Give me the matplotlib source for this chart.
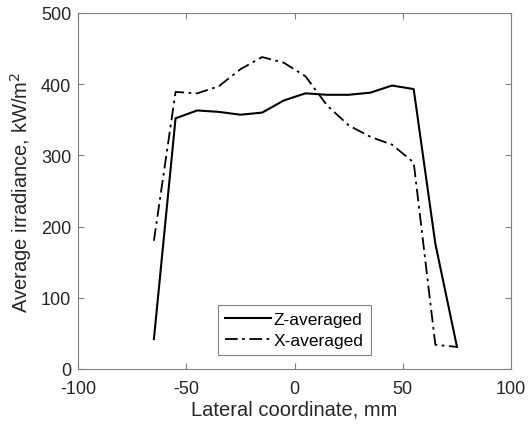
import matplotlib.pyplot as plt

plt.rcParams['font.family'] = ['Liberation Sans', 'DejaVu Sans']
plt.rcParams['axes.unicode_minus'] = False

# lateral coordinate, mm
x_mm = [-65, -55, -45, -35, -25, -15, -5, 5, 15, 25, 35, 45, 55, 65, 75]
# average irradiance, kW/m^2
z_avg = [42, 352, 363, 361, 357, 360, 377, 387, 385, 385, 388, 398, 393, 176, 31]
x_avg = [180, 389, 387, 397, 421, 438, 430, 411, 370, 342, 326, 315, 290, 34, 31]

fig = plt.figure(figsize=(5.28, 4.27), dpi=100)
ax = fig.add_axes([0.148, 0.1335, 0.82, 0.834])

ax.plot(x_mm, z_avg, color='black', lw=1.5, linestyle='-', label='Z-averaged')
ax.plot(x_mm, x_avg, color='black', lw=1.3, linestyle=(0, (7, 2.5, 1.5, 2.5)),
        label='X-averaged')

ax.set_xlim(-100, 100)
ax.set_ylim(0, 500)
ax.set_xticks([-100, -50, 0, 50, 100])
ax.set_yticks([0, 100, 200, 300, 400, 500])
ax.set_xlabel('Lateral coordinate, mm', fontsize=14.5, color='#262626', labelpad=2)
ax.set_ylabel('Average irradiance, kW/m$^2$', fontsize=14.5, color='#262626', labelpad=5)

for s in ax.spines.values():
    s.set_color('#808080')
    s.set_linewidth(0.8)
ax.tick_params(direction='in', top=True, right=True, length=4, width=0.8,
               color='#808080', labelcolor='#262626', labelsize=13)
ax.tick_params(axis='x', pad=8)
ax.tick_params(axis='y', pad=5)

leg = ax.legend(loc='lower center', bbox_to_anchor=(0.5, 0.04), fontsize=12.5,
                fancybox=False, framealpha=1, edgecolor='#808080',
                handlelength=2.6, borderpad=0.4, labelspacing=0.3,
                handletextpad=0.2, borderaxespad=0)
leg.get_frame().set_linewidth(0.8)

fig.savefig('out.png', dpi=100)
